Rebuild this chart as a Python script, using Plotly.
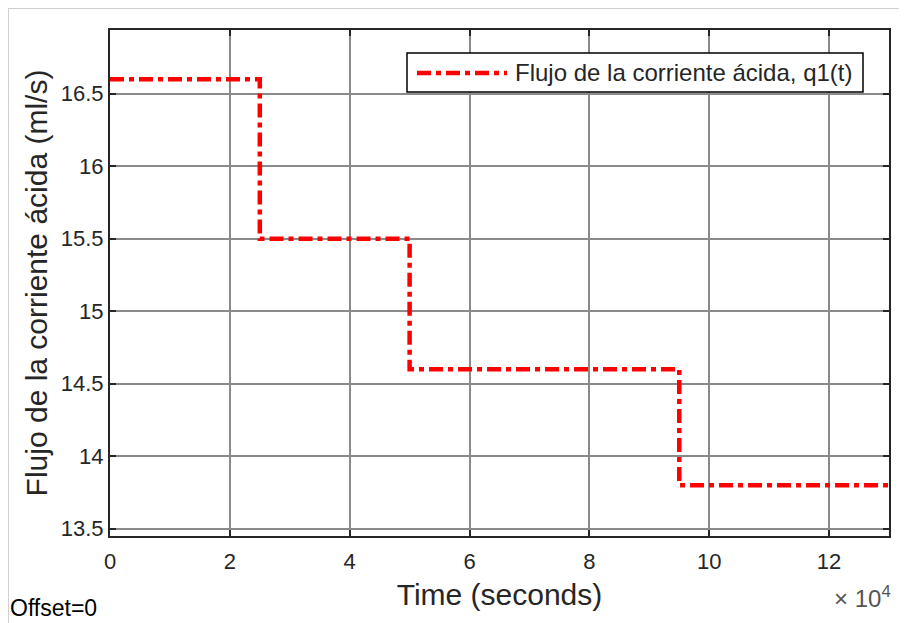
import plotly.graph_objects as go

# Data
time_s = [0, 25000, 50000, 95000, 130000]
flow_q1 = [16.6, 15.5, 14.6, 13.8, 13.8]
x_tickvals = [0, 20000, 40000, 60000, 80000, 100000, 120000]
x_ticktext = ["0", "2", "4", "6", "8", "10", "12"]
y_tickvals = [13.5, 14, 14.5, 15, 15.5, 16, 16.5]
y_ticktext = ["13.5", "14", "14.5", "15", "15.5", "16", "16.5"]
series_name = "Flujo de la corriente ácida, q1(t)"

OFF = 8  # page body margin
W, H = 907 - OFF, 623 - OFF
L, R, T, B = 110 - OFF, 889 - OFF, 30 - OFF, 536 - OFF


def px(x):
    # x in page pixels -> paper
    return (x - OFF - L) / (R - L)


def py(y):
    return (B - (y - OFF)) / (B - T)


FONT = "Liberation Sans, Arial, sans-serif"
TXT = "#262626"
DASH = "14px,5px,5px,5px"

fig = go.Figure()
fig.add_trace(go.Scatter(
    x=time_s, y=flow_q1, mode="lines", line_shape="hv",
    line=dict(color="#ff0000", width=4.5, dash=DASH),
    name=series_name, showlegend=False,
))

axis_common = dict(
    showline=True, linecolor="#262626", linewidth=2, mirror="ticks",
    ticks="inside", ticklen=6, tickcolor="#262626", tickwidth=1.5,
    showgrid=True, gridcolor="#8a8a8a", gridwidth=1.5,
    zeroline=False,
    tickfont=dict(family=FONT, size=22, color=TXT),
)

fig.update_layout(
    width=W, height=H,
    margin=dict(l=L, r=W - R, t=T, b=H - B),
    paper_bgcolor="white", plot_bgcolor="white",
    font=dict(family=FONT, color=TXT),
    xaxis=dict(
        range=[0, 130000], tickvals=x_tickvals, ticktext=x_ticktext,
        ticklabelstandoff=5,
        title=dict(text="Time (seconds)", font=dict(family=FONT, size=30, color=TXT), standoff=11),
        **axis_common,
    ),
    yaxis=dict(
        range=[13.45, 16.94], tickvals=y_tickvals, ticktext=y_ticktext,
        title=dict(text="Flujo de la corriente ácida (ml/s)", font=dict(family=FONT, size=30, color=TXT), standoff=4),
        **axis_common,
    ),
    showlegend=False,
)

shapes = [
    # manual legend box
    dict(type="rect", xref="paper", yref="paper",
         x0=px(407), x1=px(863), y0=py(92), y1=py(53),
         line=dict(color="black", width=1.5), fillcolor="white", layer="above"),
    dict(type="line", xref="paper", yref="paper",
         x0=px(417), x1=px(507), y0=py(73), y1=py(73),
         line=dict(color="#ff0000", width=4.5, dash=DASH), layer="above"),
    # light figure border (top and left)
    dict(type="line", xref="paper", yref="paper",
         x0=px(8), x1=px(907), y0=py(8.5), y1=py(8.5),
         line=dict(color="#d0d0d0", width=1)),
    dict(type="line", xref="paper", yref="paper",
         x0=px(8.5), x1=px(8.5), y0=py(8), y1=py(623),
         line=dict(color="#d0d0d0", width=1)),
]
fig.update_layout(shapes=shapes)

fig.add_annotation(xref="paper", yref="paper", x=px(513), y=py(73),
                   text=series_name, showarrow=False, xanchor="left", yanchor="middle",
                   font=dict(family=FONT, size=24, color=TXT))
fig.add_annotation(xref="paper", yref="paper", x=px(893), y=py(597),
                   text="× 10<sup>4</sup>", showarrow=False, xanchor="right", yanchor="middle",
                   font=dict(family=FONT, size=24, color="#555555"))
fig.add_annotation(xref="paper", yref="paper", x=px(8), y=py(608),
                   text="Offset=0", showarrow=False, xanchor="left", yanchor="middle",
                   font=dict(family=FONT, size=23, color="black"))

fig.write_html("out.html")
